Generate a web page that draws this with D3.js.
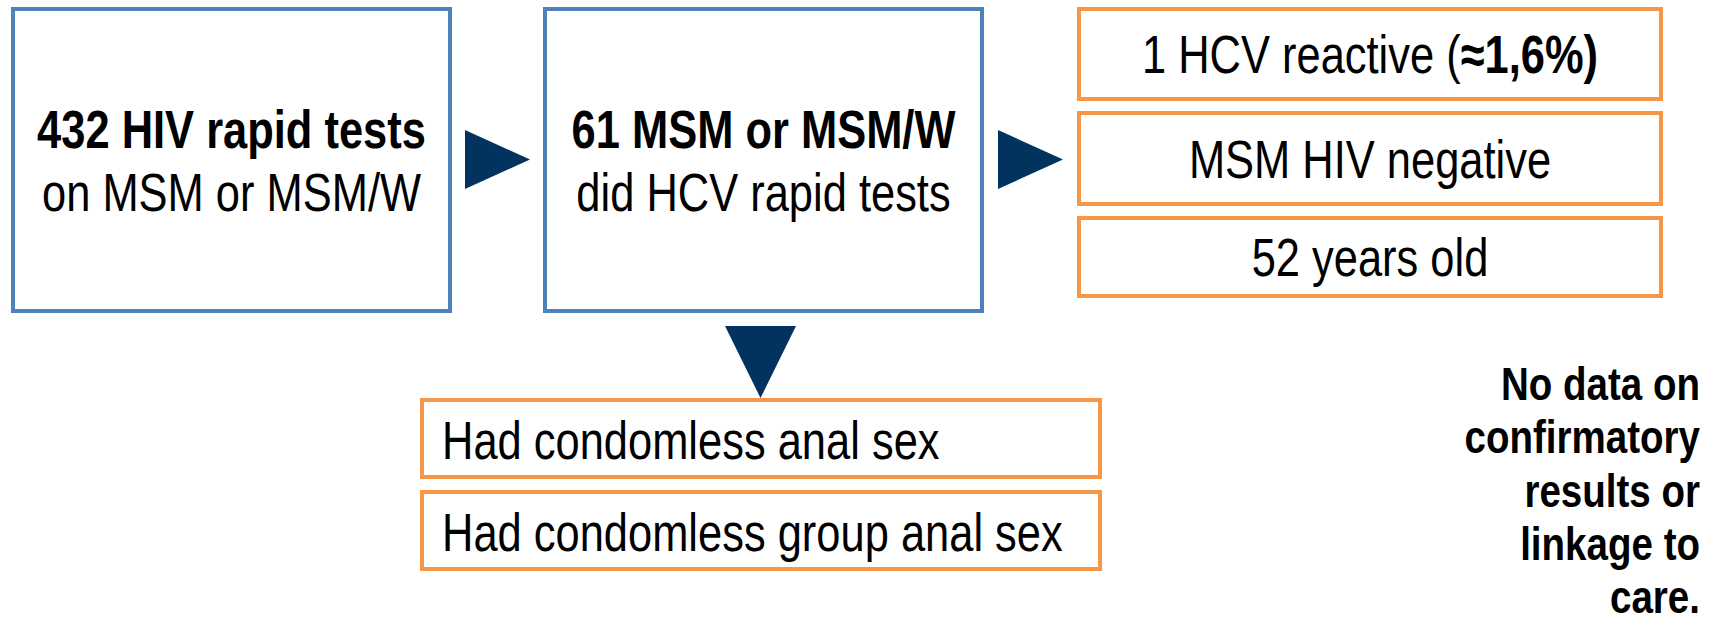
<!DOCTYPE html>
<html>
<head>
<meta charset="utf-8">
<script src="https://cdn.jsdelivr.net/npm/d3@7"></script>
<style>
  html, body { margin: 0; padding: 0; background: #fff; }
  svg text { font-family: "Liberation Sans", Arial, sans-serif; fill: #000; }
</style>
</head>
<body>
<svg id="chart" width="1717" height="630"></svg>
<script>
// flow steps (two lines each, first one bold)
const stepBold = ['432 HIV rapid tests', '61 MSM or MSM/W'];
const stepText = ['on MSM or MSM/W', 'did HCV rapid tests'];

// result boxes on the right; each item is a list of [text, bold] parts
const resultLines = [
  [['1 HCV reactive (', false], ['\u22481,6%)', true]],
  [['MSM HIV negative', false]],
  [['52 years old', false]]
];

// behaviour boxes below the second step
const behaviourLines = ['Had condomless anal sex', 'Had condomless group anal sex'];

// side note
const noteLines = ['No data on', 'confirmatory', 'results or', 'linkage to', 'care.'];

const BLUE = '#4F81BD', ORANGE = '#F79646', NAVY = '#02335F';
const NARROW = 0.82; // text is a condensed face

const svg = d3.select('#chart');

function label(g, x, y, parts, size, anchor) {
  const t = g.append('text')
    .attr('transform', `translate(${x},${y}) scale(${NARROW},1)`)
    .attr('text-anchor', anchor)
    .style('font-size', size + 'px');
  parts.forEach(p => {
    t.append('tspan').text(p[0]).style('font-weight', p[1] ? 'bold' : 'normal');
  });
  return t;
}

// --- main step boxes ---
const stepX = d3.scalePoint().domain(d3.range(stepBold.length)).range([13, 545]);
const stepW = 437, stepTop = 9, stepH = 302;

stepBold.forEach((b, i) => {
  const x0 = stepX(i);
  svg.append('rect')
    .attr('x', x0).attr('y', stepTop).attr('width', stepW).attr('height', stepH)
    .attr('fill', '#fff').attr('stroke', BLUE).attr('stroke-width', 4);
  label(svg, x0 + stepW / 2, 148, [[b, true]], 53, 'middle');
  label(svg, x0 + stepW / 2, 211, [[stepText[i], false]], 53, 'middle');
});

// --- arrows ---
const tri = d3.line();
[[465, 530], [998, 1063]].forEach(([a, b]) => {
  svg.append('path')
    .attr('d', tri([[a, 130], [b, 159.5], [a, 189]]) + 'Z')
    .attr('fill', NAVY);
});
svg.append('path')
  .attr('d', tri([[725, 326], [796, 326], [760.5, 398]]) + 'Z')
  .attr('fill', NAVY);

// --- result boxes ---
const resTop = [9, 113, 218], resBot = [99, 204, 296];
const resX0 = 1079, resX1 = 1661;
resultLines.forEach((parts, i) => {
  svg.append('rect')
    .attr('x', resX0).attr('y', resTop[i])
    .attr('width', resX1 - resX0).attr('height', resBot[i] - resTop[i])
    .attr('fill', '#fff').attr('stroke', ORANGE).attr('stroke-width', 4);
  const base = (resTop[i] + resBot[i]) / 2 + 19;
  label(svg, (resX0 + resX1) / 2, base, parts, 53, 'middle');
});

// --- behaviour boxes ---
const behTop = [400, 492], behH = 77;
behaviourLines.forEach((s, i) => {
  svg.append('rect')
    .attr('x', 422).attr('y', behTop[i]).attr('width', 678).attr('height', behH)
    .attr('fill', '#fff').attr('stroke', ORANGE).attr('stroke-width', 4);
  label(svg, 442, behTop[i] + 59, [[s, false]], 53, 'start');
});

// --- note ---
noteLines.forEach((s, i) => {
  label(svg, 1700, 400 + i * 53.3, [[s, true]], 47, 'end');
});
</script>
</body>
</html>
